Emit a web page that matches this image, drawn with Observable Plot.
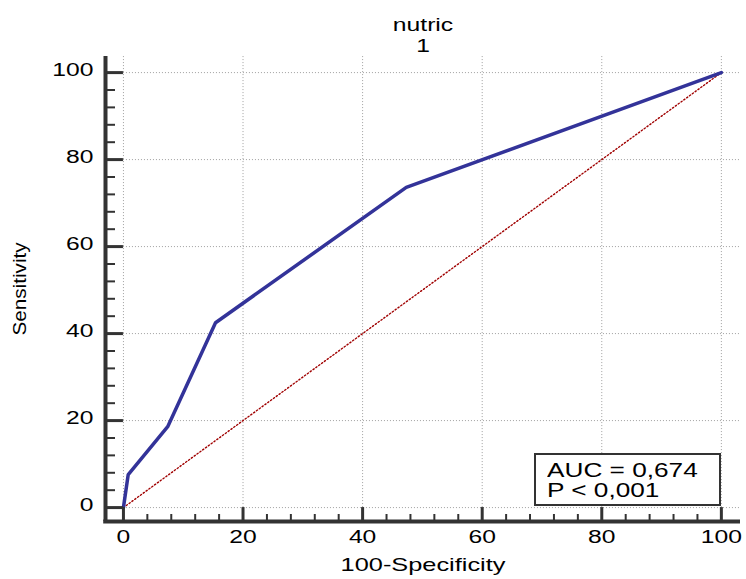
<!DOCTYPE html>
<html><head><meta charset="utf-8">
<script src="https://cdn.jsdelivr.net/npm/d3@7"></script>
<script src="https://cdn.jsdelivr.net/npm/@observablehq/plot@0.6"></script>
<style>
body{margin:0;background:#fff;}
#chart{position:relative;width:746px;height:579px;font-family:'Liberation Sans',Arial,sans-serif;}
#legend{position:absolute;left:534px;top:453px;width:183px;height:49px;border:2px solid #333;background:#fff;}
#legend div{position:absolute;left:11px;font-size:20px;line-height:20px;color:#000;transform:scaleX(1.31);transform-origin:left center;white-space:nowrap;}
</style></head><body><div id="chart"><div id="legend"></div></div>
<script>
// ROC curve points (100-Specificity, Sensitivity)
const fpr = [0, 0.8, 7.4, 15.4, 47.3, 100];
const tpr = [0, 7.6, 18.6, 42.5, 73.6, 100];
// reference diagonal
const refX = [0, 100];
const refY = [0, 100];
const majorTicks = [0, 20, 40, 60, 80, 100];
const minorStep = 4;
const titleLines = ["nutric", "1"];
const xLabel = "100-Specificity";
const yLabel = "Sensitivity";
const statLines = ["AUC = 0,674", "P < 0,001"];

const minorTicks = d3.range(0, 100 + minorStep, minorStep).filter(v => v % 20 !== 0);
const roc = fpr.map((x, i) => ({x, y: tpr[i]}));
const diag = refX.map((x, i) => ({x, y: refY[i]}));

const X0 = -3, X1 = 103.2, Y0 = -3.2, Y1 = 103.7;
const axisColor = "#333333";
const grid = {stroke: "#a0a0a0", strokeDasharray: "1,2", strokeWidth: 1};

const plot = Plot.plot({
  width: 746, height: 579,
  marginLeft: 105, marginRight: 6, marginTop: 56, marginBottom: 58,
  x: {domain: [X0, X1], axis: null},
  y: {domain: [Y0, Y1], axis: null},
  style: {fontFamily: "'Liberation Sans', Arial, sans-serif", background: "#fff", color: "#000"},
  marks: [
    Plot.ruleX(majorTicks, {x: d => d, y1: 0, y2: Y1, ...grid}),
    Plot.ruleY(majorTicks, {y: d => d, x1: 0, x2: X1, ...grid}),
    Plot.line(diag, {x: "x", y: "y", stroke: "#a00000", strokeDasharray: "1.3,2.2", strokeWidth: 1.4}),
    Plot.line(roc, {x: "x", y: "y", stroke: "#333399", strokeWidth: 3.5, strokeLinejoin: "miter"}),
    // axis lines
    Plot.ruleX([X0], {y1: Y0, y2: Y1, stroke: axisColor, strokeWidth: 4}),
    Plot.ruleY([Y0], {x1: X0 - 0.3, x2: X1, stroke: axisColor, strokeWidth: 4}),
    // major ticks
    Plot.ruleY(majorTicks, {y: d => d, x1: X0, x2: 0, stroke: axisColor, strokeWidth: 3}),
    Plot.ruleX(majorTicks, {x: d => d, y1: Y0, y2: 0, stroke: axisColor, strokeWidth: 3}),
    // minor ticks
    Plot.ruleY(minorTicks, {y: d => d, x1: X0, x2: X0 + 10 / 5.98, stroke: axisColor, strokeWidth: 2}),
    Plot.ruleX(minorTicks, {x: d => d, y1: Y0, y2: Y0 + 7 / 4.35, stroke: axisColor, strokeWidth: 2}),
    // tick labels
    Plot.text(majorTicks, {x: X0, y: d => d, text: d => String(d), textAnchor: "end", dx: -12, dy: -2, fontSize: 18, fill: "#000"}),
    Plot.text(majorTicks, {x: d => d, y: Y0, text: d => String(d), dy: 16, fontSize: 18, fill: "#000"}),
    // axis labels
    Plot.text([xLabel], {frameAnchor: "bottom", text: d => d, dy: 49, fontSize: 18.5, fill: "#000"}),
    Plot.text([yLabel], {frameAnchor: "left", textAnchor: "middle", text: d => d, dx: -85, rotate: -90, fontSize: 18, fill: "#000"}),
    // title
    Plot.text([titleLines[0]], {frameAnchor: "top", text: d => d, dy: -38, fontSize: 18, fill: "#000"}),
    Plot.text([titleLines[1]], {frameAnchor: "top", text: d => d, dy: -17, fontSize: 18, fill: "#000"})
  ]
});
const chart = document.getElementById("chart");
chart.insertBefore(plot, chart.firstChild);

// horizontally widen glyphs to mimic the reference rendering
plot.querySelectorAll("text").forEach(t => {
  const rotated = (t.getAttribute("transform") || "").includes("rotate");
  const k = rotated ? 1.15 : 1.37;
  const w = t.getComputedTextLength();
  if (w > 0) {
    t.setAttribute("textLength", (w * k).toFixed(1));
    t.setAttribute("lengthAdjust", "spacingAndGlyphs");
  }
});

const legend = document.getElementById("legend");
statLines.forEach((s, i) => {
  const d = document.createElement("div");
  d.textContent = s;
  d.style.top = (5 + i * 20) + "px";
  legend.appendChild(d);
});
</script>
</body></html>
